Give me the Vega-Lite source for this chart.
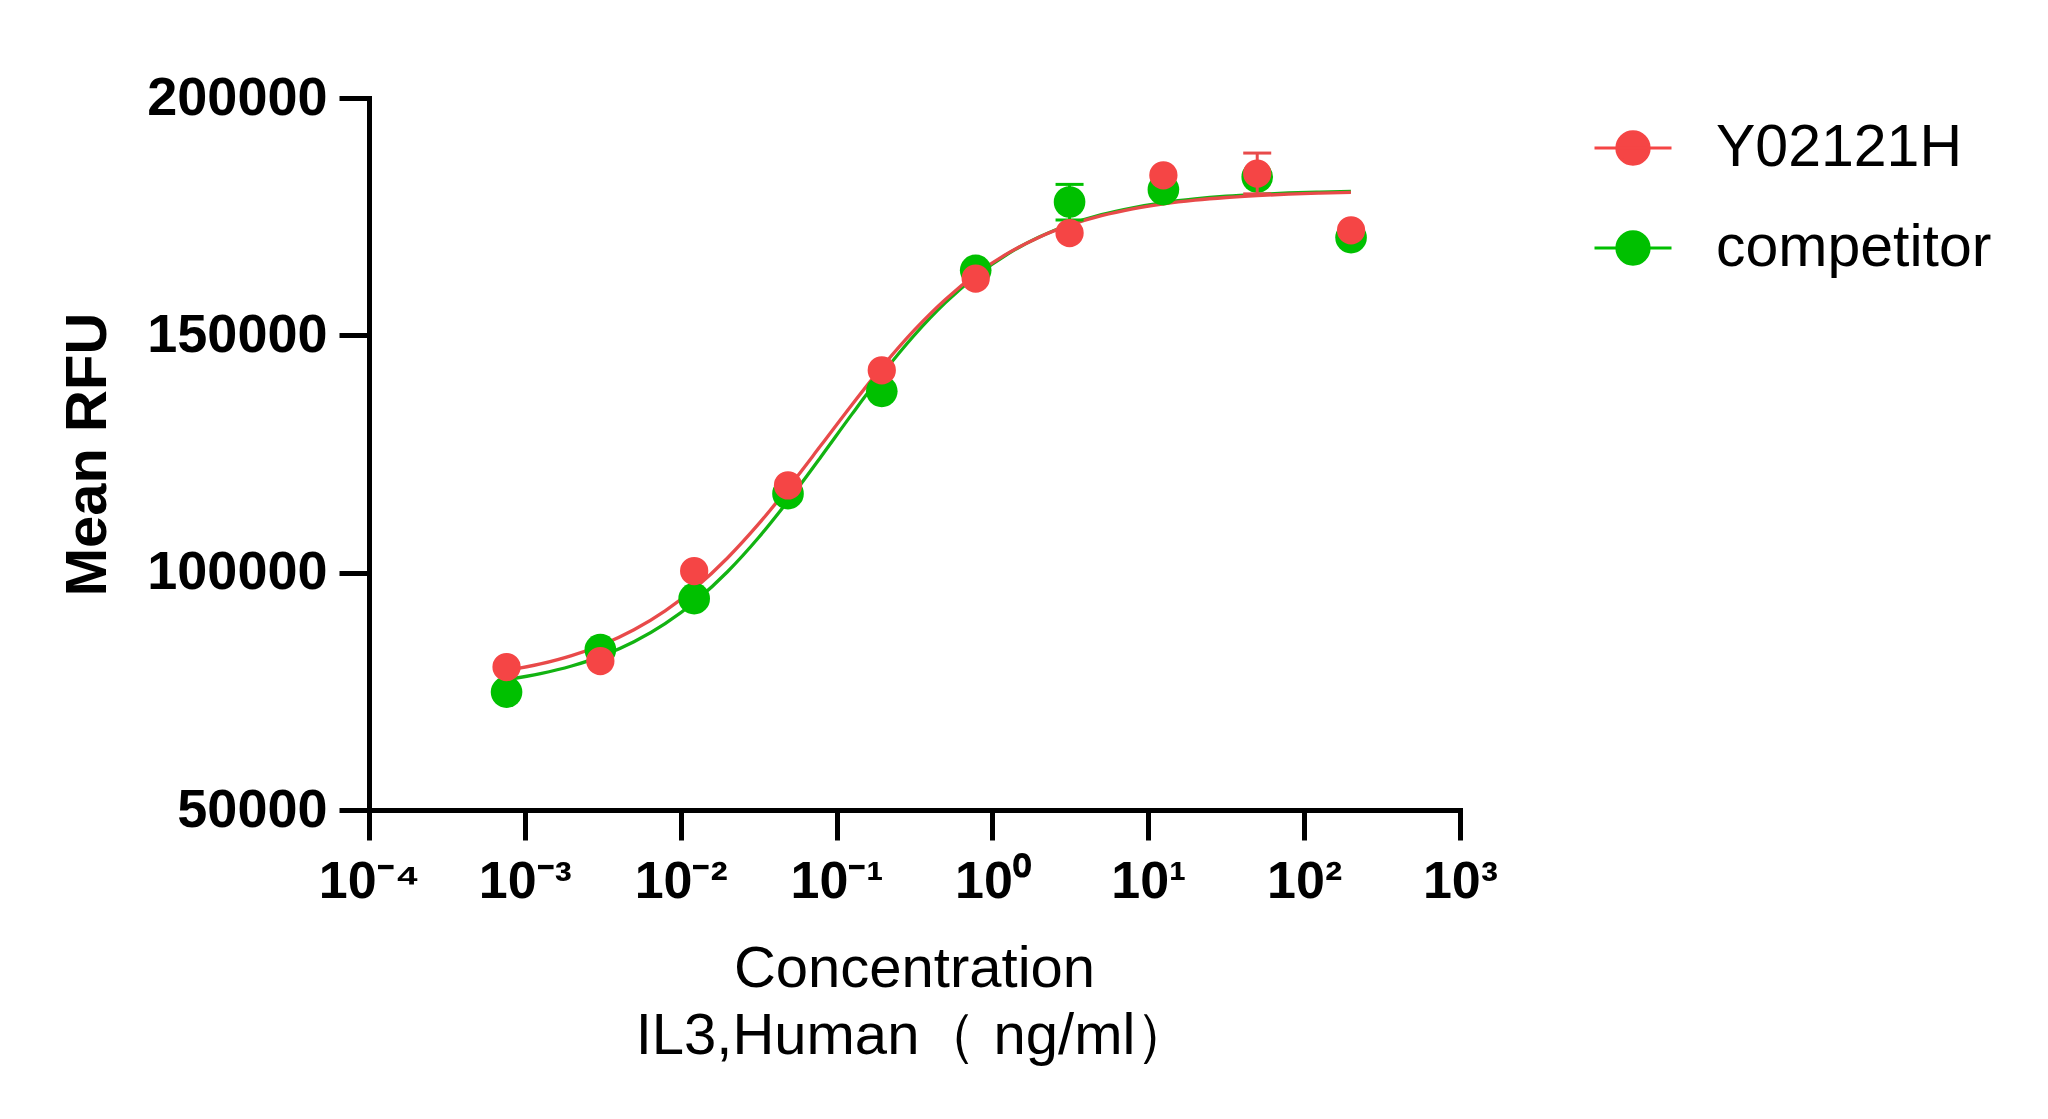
{
  "$schema": "https://vega.github.io/schema/vega-lite/v6.json",
  "width": 1091,
  "height": 712,
  "autosize": {"type": "none"},
  "padding": {"left": 369, "top": 98, "right": 588, "bottom": 309},
  "background": "white",
  "config": {
    "view": {"stroke": null},
    "font": "Liberation Sans",
    "axis": {"grid": false, "domainColor": "black", "tickColor": "black", "labelColor": "black", "titleColor": "black"}
  },
  "datasets": {
    "points": [
      {"conc": 0.000763, "rfu": 74840, "series": "competitor"},
      {"conc": 0.00305, "rfu": 83780, "series": "competitor"},
      {"conc": 0.0122, "rfu": 94520, "series": "competitor"},
      {"conc": 0.0488, "rfu": 116640, "series": "competitor"},
      {"conc": 0.195, "rfu": 138200, "series": "competitor"},
      {"conc": 0.781, "rfu": 163690, "series": "competitor"},
      {"conc": 3.125, "rfu": 178090, "series": "competitor"},
      {"conc": 12.5, "rfu": 180700, "series": "competitor"},
      {"conc": 50, "rfu": 183350, "series": "competitor"},
      {"conc": 200, "rfu": 170590, "series": "competitor"},
      {"conc": 0.000763, "rfu": 80110, "series": "Y02121H"},
      {"conc": 0.00305, "rfu": 81380, "series": "Y02121H"},
      {"conc": 0.0122, "rfu": 100340, "series": "Y02121H"},
      {"conc": 0.0488, "rfu": 118390, "series": "Y02121H"},
      {"conc": 0.195, "rfu": 142620, "series": "Y02121H"},
      {"conc": 0.781, "rfu": 161950, "series": "Y02121H"},
      {"conc": 3.125, "rfu": 171550, "series": "Y02121H"},
      {"conc": 12.5, "rfu": 183710, "series": "Y02121H"},
      {"conc": 50, "rfu": 184070, "series": "Y02121H"},
      {"conc": 200, "rfu": 172120, "series": "Y02121H"}
    ],
    "errors": [
      {"conc": 3.125, "lo": 174300, "hi": 181800, "series": "competitor"},
      {"conc": 50, "lo": 179800, "hi": 188400, "series": "Y02121H"}
    ],
    "curves": [
      {"conc": 0.00076, "rfu": 77433, "series": "competitor"},
      {"conc": 0.001259, "rfu": 78714, "series": "competitor"},
      {"conc": 0.001995, "rfu": 80329, "series": "competitor"},
      {"conc": 0.003162, "rfu": 82522, "series": "competitor"},
      {"conc": 0.005012, "rfu": 85449, "series": "competitor"},
      {"conc": 0.007943, "rfu": 89272, "series": "competitor"},
      {"conc": 0.012589, "rfu": 94157, "series": "competitor"},
      {"conc": 0.019953, "rfu": 100200, "series": "competitor"},
      {"conc": 0.031623, "rfu": 107411, "series": "competitor"},
      {"conc": 0.050119, "rfu": 115599, "series": "competitor"},
      {"conc": 0.079433, "rfu": 124435, "series": "competitor"},
      {"conc": 0.125893, "rfu": 133452, "series": "competitor"},
      {"conc": 0.199526, "rfu": 142149, "series": "competitor"},
      {"conc": 0.316228, "rfu": 150072, "series": "competitor"},
      {"conc": 0.501187, "rfu": 156932, "series": "competitor"},
      {"conc": 0.794328, "rfu": 162635, "series": "competitor"},
      {"conc": 1.258925, "rfu": 167191, "series": "competitor"},
      {"conc": 1.995262, "rfu": 170717, "series": "competitor"},
      {"conc": 3.162278, "rfu": 173404, "series": "competitor"},
      {"conc": 5.011872, "rfu": 175411, "series": "competitor"},
      {"conc": 7.943282, "rfu": 176877, "series": "competitor"},
      {"conc": 12.58925, "rfu": 177960, "series": "competitor"},
      {"conc": 19.95262, "rfu": 178735, "series": "competitor"},
      {"conc": 31.62278, "rfu": 179298, "series": "competitor"},
      {"conc": 50.11872, "rfu": 179691, "series": "competitor"},
      {"conc": 79.43282, "rfu": 179984, "series": "competitor"},
      {"conc": 125.8925, "rfu": 180189, "series": "competitor"},
      {"conc": 199.5262, "rfu": 180336, "series": "competitor"},
      {"conc": 0.00076, "rfu": 79362, "series": "Y02121H"},
      {"conc": 0.001259, "rfu": 80775, "series": "Y02121H"},
      {"conc": 0.001995, "rfu": 82535, "series": "Y02121H"},
      {"conc": 0.003162, "rfu": 84887, "series": "Y02121H"},
      {"conc": 0.005012, "rfu": 87982, "series": "Y02121H"},
      {"conc": 0.007943, "rfu": 91968, "series": "Y02121H"},
      {"conc": 0.012589, "rfu": 96988, "series": "Y02121H"},
      {"conc": 0.019953, "rfu": 103097, "series": "Y02121H"},
      {"conc": 0.031623, "rfu": 110265, "series": "Y02121H"},
      {"conc": 0.050119, "rfu": 118281, "series": "Y02121H"},
      {"conc": 0.079433, "rfu": 126818, "series": "Y02121H"},
      {"conc": 0.125893, "rfu": 135440, "series": "Y02121H"},
      {"conc": 0.199526, "rfu": 143674, "series": "Y02121H"},
      {"conc": 0.316228, "rfu": 151146, "series": "Y02121H"},
      {"conc": 0.501187, "rfu": 157615, "series": "Y02121H"},
      {"conc": 0.794328, "rfu": 162996, "series": "Y02121H"},
      {"conc": 1.258925, "rfu": 167312, "series": "Y02121H"},
      {"conc": 1.995262, "rfu": 170688, "series": "Y02121H"},
      {"conc": 3.162278, "rfu": 173258, "series": "Y02121H"},
      {"conc": 5.011872, "rfu": 175202, "series": "Y02121H"},
      {"conc": 7.943282, "rfu": 176644, "series": "Y02121H"},
      {"conc": 12.58925, "rfu": 177700, "series": "Y02121H"},
      {"conc": 19.95262, "rfu": 178473, "series": "Y02121H"},
      {"conc": 31.62278, "rfu": 179037, "series": "Y02121H"},
      {"conc": 50.11872, "rfu": 179445, "series": "Y02121H"},
      {"conc": 79.43282, "rfu": 179742, "series": "Y02121H"},
      {"conc": 125.8925, "rfu": 179955, "series": "Y02121H"},
      {"conc": 199.5262, "rfu": 180108, "series": "Y02121H"}
    ]
  },
  "encoding": {
    "x": {
      "field": "conc", "type": "quantitative",
      "scale": {"type": "log", "domain": [0.0001, 1000], "nice": false},
      "axis": {
        "values": [0.0001, 0.001, 0.01, 0.1, 1, 10, 100, 1000],
        "labelExpr": "['10⁻⁴','10⁻³','10⁻²','10⁻¹','10⁰','10¹','10²','10³'][round(log(datum.value)/LN10)+4]",
        "labelFont": "Liberation Sans", "labelFontSize": 52, "labelFontWeight": "bold",
        "labelFlush": false, "labelOverlap": false, "labelBound": false, "labelPadding": 16, "labelLimit": 400,
        "tickSize": 30, "tickWidth": 5, "domainWidth": 5, "domainCap": "square",
        "title": ["Concentration", "IL3,Human（ ng/ml）"],
        "titleFont": "Liberation Sans", "titleFontSize": 58, "titleFontWeight": "normal",
        "titleLineHeight": 67, "titleBaseline": "alphabetic", "titleAlign": "center",
        "titleX": 545, "titleY": 176
      }
    },
    "y": {
      "field": "rfu", "type": "quantitative",
      "scale": {"domain": [50000, 200000], "nice": false, "zero": false},
      "axis": {
        "values": [50000, 100000, 150000, 200000],
        "format": "d",
        "labelFont": "Liberation Sans", "labelFontSize": 54, "labelFontWeight": "bold",
        "labelPadding": 12, "labelOverlap": false, "labelLimit": 400,
        "tickSize": 30, "tickWidth": 5, "domainWidth": 5, "domainCap": "square",
        "title": "Mean RFU",
        "titleFont": "Liberation Sans", "titleFontSize": 58, "titleFontWeight": "bold",
        "titleAngle": -90, "titleBaseline": "middle", "titleAlign": "center",
        "titleX": -281, "titleY": 356
      }
    }
  },
  "layer": [
    {
      "data": {"name": "curves"},
      "transform": [{"filter": "datum.series === 'competitor'"}],
      "mark": {"type": "line", "color": "#12B312", "strokeWidth": 3.3, "interpolate": "monotone"}
    },
    {
      "data": {"name": "curves"},
      "transform": [{"filter": "datum.series === 'Y02121H'"}],
      "mark": {"type": "line", "color": "#E84A4A", "strokeWidth": 3.3, "interpolate": "monotone"}
    },
    {
      "data": {"name": "errors"},
      "transform": [{"filter": "datum.series === 'competitor'"}],
      "mark": {"type": "rule", "color": "#00C000", "strokeWidth": 3},
      "encoding": {"y": {"field": "lo", "type": "quantitative"}, "y2": {"field": "hi"}}
    },
    {
      "data": {"name": "errors"},
      "transform": [{"filter": "datum.series === 'competitor'"}],
      "mark": {"type": "tick", "orient": "horizontal", "color": "#00C000", "size": 28, "thickness": 3, "opacity": 1},
      "encoding": {"y": {"field": "hi", "type": "quantitative"}}
    },
    {
      "data": {"name": "errors"},
      "transform": [{"filter": "datum.series === 'competitor'"}],
      "mark": {"type": "tick", "orient": "horizontal", "color": "#00C000", "size": 28, "thickness": 3, "opacity": 1},
      "encoding": {"y": {"field": "lo", "type": "quantitative"}}
    },
    {
      "data": {"name": "points"},
      "transform": [{"filter": "datum.series === 'competitor'"}],
      "mark": {"type": "point", "shape": "circle", "filled": true, "size": 1000, "opacity": 1},
      "encoding": {
        "color": {
          "field": "series", "type": "nominal",
          "scale": {"domain": ["Y02121H", "competitor"], "range": ["#F54545", "#00C000"]},
          "legend": {
            "title": null, "orient": "none", "legendX": 1224, "legendY": 10, "padding": 0,
            "symbolType": "M-1,0L1,0M-0.42,0A0.42,0.42,0,1,1,0.42,0A0.42,0.42,0,1,1,-0.42,0Z",
            "symbolSize": 5929, "symbolStrokeWidth": 3, "symbolOpacity": 1,
            "labelFont": "Liberation Sans", "labelFontSize": 59, "labelColor": "black",
            "labelOffset": 43, "rowPadding": 30, "labelLimit": 600,
            "encode": {"symbols": {"update": {"stroke": {"scale": "color", "field": "value"}, "strokeWidth": {"value": 3}}}}
          }
        }
      }
    },
    {
      "data": {"name": "errors"},
      "transform": [{"filter": "datum.series === 'Y02121H'"}],
      "mark": {"type": "rule", "color": "#E84A4A", "strokeWidth": 3},
      "encoding": {"y": {"field": "lo", "type": "quantitative"}, "y2": {"field": "hi"}}
    },
    {
      "data": {"name": "errors"},
      "transform": [{"filter": "datum.series === 'Y02121H'"}],
      "mark": {"type": "tick", "orient": "horizontal", "color": "#E84A4A", "size": 28, "thickness": 3, "opacity": 1},
      "encoding": {"y": {"field": "hi", "type": "quantitative"}}
    },
    {
      "data": {"name": "errors"},
      "transform": [{"filter": "datum.series === 'Y02121H'"}],
      "mark": {"type": "tick", "orient": "horizontal", "color": "#E84A4A", "size": 28, "thickness": 3, "opacity": 1},
      "encoding": {"y": {"field": "lo", "type": "quantitative"}}
    },
    {
      "data": {"name": "points"},
      "transform": [{"filter": "datum.series === 'Y02121H'"}],
      "mark": {"type": "point", "shape": "circle", "filled": true, "size": 800, "opacity": 1},
      "encoding": {
        "color": {"field": "series", "type": "nominal"}
      }
    }
  ]
}
